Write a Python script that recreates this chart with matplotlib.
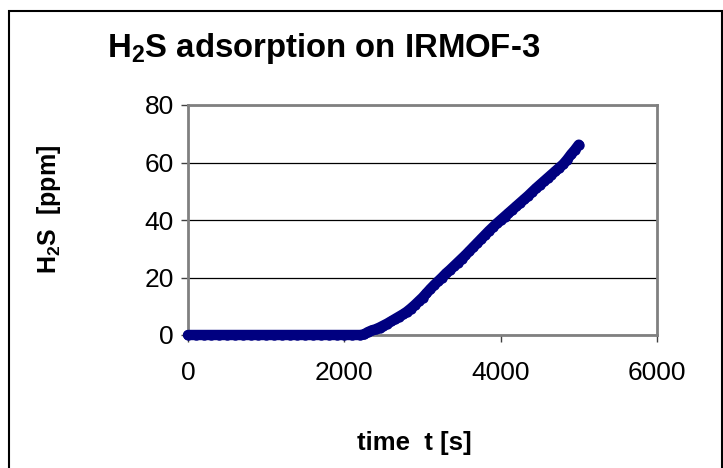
import matplotlib
matplotlib.use("Agg")
import matplotlib.pyplot as plt
from matplotlib.patches import Rectangle

plt.rcParams['font.family'] = ['Liberation Sans', 'DejaVu Sans']
plt.rcParams['mathtext.fontset'] = 'custom'
plt.rcParams['mathtext.rm'] = 'Liberation Sans'
plt.rcParams['mathtext.bf'] = 'Liberation Sans:bold'

# Data
time_s = [0, 100, 200, 300, 400, 500, 600, 700, 800, 900, 1000, 1100, 1200,
          1300, 1400, 1500, 1600, 1700, 1800, 1900, 2000, 2100, 2200, 2250,
          2300, 2350, 2400, 2450, 2500, 2550, 2600, 2650, 2700, 2750, 2800,
          2850, 2900, 2950, 3000, 3050, 3100, 3150, 3200, 3250, 3300, 3350,
          3400, 3450, 3500, 3550, 3600, 3650, 3700, 3750, 3800, 3850, 3900,
          3950, 4000, 4050, 4100, 4150, 4200, 4250, 4300, 4350, 4400, 4450,
          4500, 4550, 4600, 4650, 4700, 4750, 4800, 4850, 4900, 4950, 5000]
h2s_ppm = [0, 0, 0, 0, 0, 0, 0, 0, 0, 0, 0, 0, 0,
           0, 0, 0, 0, 0, 0, 0, 0, 0, 0, 0.2,
           1.0, 1.6, 2.0, 2.6, 3.3, 4.0, 4.8, 5.6, 6.4, 7.2, 8.1,
           9.2, 10.4, 11.7, 13.0, 14.5, 16.0, 17.4, 18.7, 20.0, 21.4, 22.6,
           23.9, 25.2, 26.5, 27.8, 29.2, 30.6, 32.0, 33.4, 34.8, 36.2, 37.5,
           38.8, 40.0, 41.2, 42.4, 43.6, 44.8, 46.0, 47.2, 48.4, 49.7, 51.0,
           52.2, 53.4, 54.6, 55.8, 57.0, 58.2, 59.4, 61.0, 62.8, 64.4, 66.2]

x_ticks = [0, 2000, 4000, 6000]
y_ticks = [0, 20, 40, 60, 80]

fig = plt.figure(figsize=(7.23, 4.68), dpi=100)
fig.patch.set_facecolor('white')

# outer chart border
fig.add_artist(Rectangle((9/723, -0.01), (722 - 9)/723, (468 - 10.5)/468 + 0.01,
                         transform=fig.transFigure, fill=False,
                         edgecolor='black', linewidth=1.5, zorder=0))

ax = fig.add_axes([188/723, (468 - 335)/468, (657 - 188)/723, (335 - 105)/468])
ax.plot(time_s, h2s_ppm, color='#000080', linewidth=7.5, marker='o',
        markersize=7.5, markeredgewidth=0, solid_capstyle='round',
        solid_joinstyle='round', clip_on=False, zorder=3)

ax.set_xlim(0, 6000)
ax.set_ylim(0, 80)
ax.set_xticks(x_ticks)
ax.set_yticks(y_ticks)
ax.tick_params(axis='both', labelsize=19, direction='out', length=5,
               color='#404040', width=1)
ax.tick_params(axis='x', pad=14)
ax.tick_params(axis='y', pad=5)

ax.yaxis.grid(True, color='black', linewidth=0.9)
ax.set_axisbelow(True)
for side in ['top', 'right', 'left', 'bottom']:
    ax.spines[side].set_color('#808080')
    ax.spines[side].set_linewidth(2)

fig.text(107/723, 1 - 48/468, r'H$_\mathbf{2}$S adsorption on IRMOF-3',
         fontsize=23.7, fontweight='bold', ha='left', va='center')
fig.text(414/723, 1 - 443/468, 'time  t [s]', fontsize=18.5,
         fontweight='bold', ha='center', va='center')
fig.text(49/723, 1 - 209/468, r'H$_\mathbf{2}$S  [ppm]', fontsize=18,
         fontweight='bold', ha='center', va='center', rotation=90)

fig.savefig('out.png', dpi=100, facecolor='white')
